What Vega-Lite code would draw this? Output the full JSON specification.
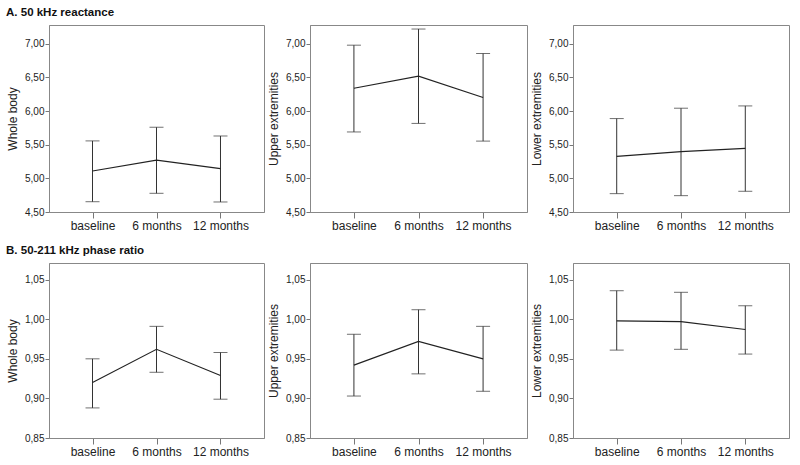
{
  "$schema": "https://vega.github.io/schema/vega-lite/v6.json",
  "padding": {"left": 6, "top": 7, "right": 5, "bottom": 5},
  "background": "white",
  "datasets": {
    "d": [
      {"panel": "A1", "time": "baseline", "mean": 5.11, "lo": 4.653, "hi": 5.557},
      {"panel": "A1", "time": "6 months", "mean": 5.27, "lo": 4.778, "hi": 5.76},
      {"panel": "A1", "time": "12 months", "mean": 5.145, "lo": 4.649, "hi": 5.63},
      {"panel": "A2", "time": "baseline", "mean": 6.34, "lo": 5.69, "hi": 6.98},
      {"panel": "A2", "time": "6 months", "mean": 6.52, "lo": 5.817, "hi": 7.22},
      {"panel": "A2", "time": "12 months", "mean": 6.203, "lo": 5.554, "hi": 6.856},
      {"panel": "A3", "time": "baseline", "mean": 5.328, "lo": 4.773, "hi": 5.889},
      {"panel": "A3", "time": "6 months", "mean": 5.398, "lo": 4.743, "hi": 6.043},
      {"panel": "A3", "time": "12 months", "mean": 5.447, "lo": 4.808, "hi": 6.077},
      {"panel": "B1", "time": "baseline", "mean": 0.92, "lo": 0.888, "hi": 0.95},
      {"panel": "B1", "time": "6 months", "mean": 0.962, "lo": 0.933, "hi": 0.991},
      {"panel": "B1", "time": "12 months", "mean": 0.929, "lo": 0.899, "hi": 0.958},
      {"panel": "B2", "time": "baseline", "mean": 0.942, "lo": 0.903, "hi": 0.981},
      {"panel": "B2", "time": "6 months", "mean": 0.972, "lo": 0.931, "hi": 1.012},
      {"panel": "B2", "time": "12 months", "mean": 0.95, "lo": 0.909, "hi": 0.991},
      {"panel": "B3", "time": "baseline", "mean": 0.998, "lo": 0.961, "hi": 1.036},
      {"panel": "B3", "time": "6 months", "mean": 0.997, "lo": 0.962, "hi": 1.034},
      {"panel": "B3", "time": "12 months", "mean": 0.987, "lo": 0.956, "hi": 1.017}
    ]
  },
  "vconcat": [
    {
      "title": {"text": "A. 50 kHz reactance"},
      "bounds": "flush",
      "spacing": 46,
      "hconcat": [
        {
          "width": 215, "height": 187,
          "data": {"name": "d"},
          "transform": [{"filter": "datum.panel == 'A1'"}],
          "encoding": {"x": {"field": "time", "type": "ordinal", "sort": ["baseline", "6 months", "12 months"], "scale": {"type": "point", "padding": 0.68}}},
          "layer": [
            {"mark": {"type": "errorbar", "ticks": {"size": 14, "color": "#333"}, "rule": {"color": "#333"}}, "encoding": {"y": {"field": "lo", "type": "quantitative", "scale": {"domain": [4.5, 7.28], "nice": false, "zero": false}, "axis": {"values": [4.5, 5, 5.5, 6, 6.5, 7], "format": ".2f", "title": "Whole body"}}, "y2": {"field": "hi"}}},
            {"mark": {"type": "line", "color": "#222", "strokeWidth": 1.2}, "encoding": {"y": {"field": "mean", "type": "quantitative", "axis": {"values": [4.5, 5, 5.5, 6, 6.5, 7], "format": ".2f", "title": "Whole body"}}}}
          ]
        },
        {
          "width": 217, "height": 187,
          "data": {"name": "d"},
          "transform": [{"filter": "datum.panel == 'A2'"}],
          "encoding": {"x": {"field": "time", "type": "ordinal", "sort": ["baseline", "6 months", "12 months"], "scale": {"type": "point", "padding": 0.68}}},
          "layer": [
            {"mark": {"type": "errorbar", "ticks": {"size": 14, "color": "#333"}, "rule": {"color": "#333"}}, "encoding": {"y": {"field": "lo", "type": "quantitative", "scale": {"domain": [4.5, 7.28], "nice": false, "zero": false}, "axis": {"values": [4.5, 5, 5.5, 6, 6.5, 7], "format": ".2f", "title": "Upper extremities"}}, "y2": {"field": "hi"}}},
            {"mark": {"type": "line", "color": "#222", "strokeWidth": 1.2}, "encoding": {"y": {"field": "mean", "type": "quantitative", "axis": {"values": [4.5, 5, 5.5, 6, 6.5, 7], "format": ".2f", "title": "Upper extremities"}}}}
          ]
        },
        {
          "width": 216, "height": 187,
          "data": {"name": "d"},
          "transform": [{"filter": "datum.panel == 'A3'"}],
          "encoding": {"x": {"field": "time", "type": "ordinal", "sort": ["baseline", "6 months", "12 months"], "scale": {"type": "point", "padding": 0.68}}},
          "layer": [
            {"mark": {"type": "errorbar", "ticks": {"size": 14, "color": "#333"}, "rule": {"color": "#333"}}, "encoding": {"y": {"field": "lo", "type": "quantitative", "scale": {"domain": [4.5, 7.28], "nice": false, "zero": false}, "axis": {"values": [4.5, 5, 5.5, 6, 6.5, 7], "format": ".2f", "title": "Lower extremities"}}, "y2": {"field": "hi"}}},
            {"mark": {"type": "line", "color": "#222", "strokeWidth": 1.2}, "encoding": {"y": {"field": "mean", "type": "quantitative", "axis": {"values": [4.5, 5, 5.5, 6, 6.5, 7], "format": ".2f", "title": "Lower extremities"}}}}
          ]
        }
      ]
    },
    {
      "title": {"text": "B. 50-211 kHz phase ratio"},
      "bounds": "flush",
      "spacing": 46,
      "hconcat": [
        {
          "width": 215, "height": 175,
          "data": {"name": "d"},
          "transform": [{"filter": "datum.panel == 'B1'"}],
          "encoding": {"x": {"field": "time", "type": "ordinal", "sort": ["baseline", "6 months", "12 months"], "scale": {"type": "point", "padding": 0.68}}},
          "layer": [
            {"mark": {"type": "errorbar", "ticks": {"size": 14, "color": "#333"}, "rule": {"color": "#333"}}, "encoding": {"y": {"field": "lo", "type": "quantitative", "scale": {"domain": [0.85, 1.071], "nice": false, "zero": false}, "axis": {"values": [0.85, 0.9, 0.95, 1.0, 1.05], "format": ".2f", "title": "Whole body"}}, "y2": {"field": "hi"}}},
            {"mark": {"type": "line", "color": "#222", "strokeWidth": 1.2}, "encoding": {"y": {"field": "mean", "type": "quantitative", "axis": {"values": [0.85, 0.9, 0.95, 1.0, 1.05], "format": ".2f", "title": "Whole body"}}}}
          ]
        },
        {
          "width": 217, "height": 175,
          "data": {"name": "d"},
          "transform": [{"filter": "datum.panel == 'B2'"}],
          "encoding": {"x": {"field": "time", "type": "ordinal", "sort": ["baseline", "6 months", "12 months"], "scale": {"type": "point", "padding": 0.68}}},
          "layer": [
            {"mark": {"type": "errorbar", "ticks": {"size": 14, "color": "#333"}, "rule": {"color": "#333"}}, "encoding": {"y": {"field": "lo", "type": "quantitative", "scale": {"domain": [0.85, 1.071], "nice": false, "zero": false}, "axis": {"values": [0.85, 0.9, 0.95, 1.0, 1.05], "format": ".2f", "title": "Upper extremities"}}, "y2": {"field": "hi"}}},
            {"mark": {"type": "line", "color": "#222", "strokeWidth": 1.2}, "encoding": {"y": {"field": "mean", "type": "quantitative", "axis": {"values": [0.85, 0.9, 0.95, 1.0, 1.05], "format": ".2f", "title": "Upper extremities"}}}}
          ]
        },
        {
          "width": 216, "height": 175,
          "data": {"name": "d"},
          "transform": [{"filter": "datum.panel == 'B3'"}],
          "encoding": {"x": {"field": "time", "type": "ordinal", "sort": ["baseline", "6 months", "12 months"], "scale": {"type": "point", "padding": 0.68}}},
          "layer": [
            {"mark": {"type": "errorbar", "ticks": {"size": 14, "color": "#333"}, "rule": {"color": "#333"}}, "encoding": {"y": {"field": "lo", "type": "quantitative", "scale": {"domain": [0.85, 1.071], "nice": false, "zero": false}, "axis": {"values": [0.85, 0.9, 0.95, 1.0, 1.05], "format": ".2f", "title": "Lower extremities"}}, "y2": {"field": "hi"}}},
            {"mark": {"type": "line", "color": "#222", "strokeWidth": 1.2}, "encoding": {"y": {"field": "mean", "type": "quantitative", "axis": {"values": [0.85, 0.9, 0.95, 1.0, 1.05], "format": ".2f", "title": "Lower extremities"}}}}
          ]
        }
      ]
    }
  ],
  "spacing": 13,
  "config": {
    "locale": {"number": {"decimal": ",", "thousands": ".", "grouping": [3], "currency": ["", " €"]}},
    "font": "Liberation Sans",
    "view": {"stroke": "#888", "strokeWidth": 1},
    "title": {"anchor": "start", "frame": "bounds", "fontSize": 11.5, "fontWeight": "bold", "color": "#111", "font": "Liberation Sans", "offset": 6},
    "axis": {"grid": false, "domainColor": "#888", "tickColor": "#777", "labelFont": "Liberation Sans", "titleFont": "Liberation Sans", "labelColor": "#222", "titleColor": "#222", "titleFontWeight": "normal"},
    "axisX": {"labelAngle": 0, "labelFontSize": 12, "ticks": true, "tickSize": 6, "title": null, "labelPadding": 2},
    "axisY": {"labelFontSize": 10, "tickSize": 4, "titleFontSize": 12, "titlePadding": 5, "labelPadding": 1}
  }
}
